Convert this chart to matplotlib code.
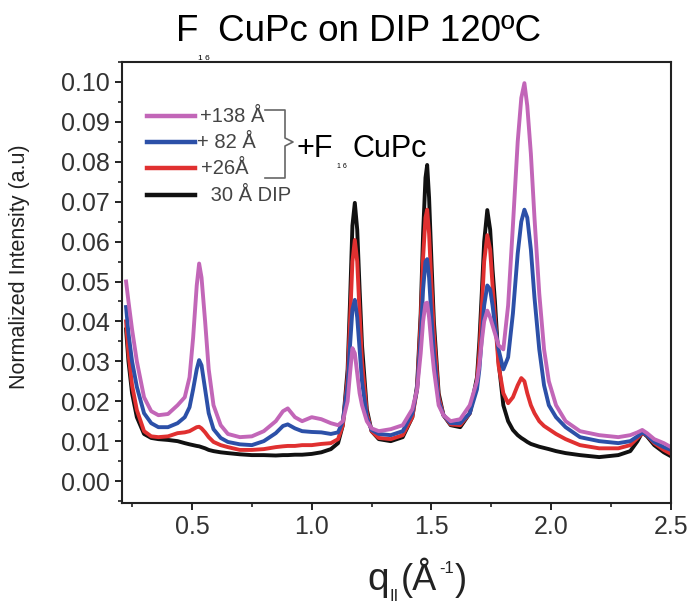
import matplotlib
matplotlib.use('Agg')
import matplotlib.pyplot as plt
from matplotlib.lines import Line2D
from matplotlib.ticker import MultipleLocator

# %% Data
q = [0.225, 0.235, 0.25, 0.27, 0.30, 0.33, 0.36, 0.40, 0.44, 0.47,
     0.49, 0.505, 0.52, 0.53, 0.54, 0.555, 0.57, 0.59, 0.62, 0.65,
     0.70, 0.75, 0.80, 0.85, 0.88, 0.90, 0.93, 0.96, 1.00, 1.04,
     1.08, 1.11, 1.13, 1.15, 1.16, 1.17, 1.18, 1.19, 1.20, 1.21,
     1.23, 1.25, 1.28, 1.33, 1.38, 1.42, 1.44, 1.455, 1.465, 1.475,
     1.482, 1.49, 1.50, 1.51, 1.53, 1.55, 1.58, 1.62, 1.66, 1.69,
     1.70, 1.71, 1.72, 1.733, 1.745, 1.755, 1.765, 1.78, 1.80, 1.82,
     1.84, 1.86, 1.875, 1.888, 1.90, 1.915, 1.93, 1.95, 1.97, 1.99,
     2.02, 2.06, 2.12, 2.20, 2.28, 2.33, 2.36, 2.38, 2.40, 2.43,
     2.47, 2.50]

dip_30 = [0.038, 0.030, 0.022, 0.016, 0.0118, 0.0108, 0.0105, 0.0103, 0.0100, 0.0095,
          0.0092, 0.0090, 0.0088, 0.0087, 0.0085, 0.0082, 0.0078, 0.0075, 0.0072, 0.0070,
          0.0067, 0.0065, 0.0065, 0.0064, 0.0065, 0.0065, 0.0066, 0.0066, 0.0068, 0.0072,
          0.0080, 0.0095, 0.014, 0.028, 0.045, 0.064, 0.0697, 0.063, 0.048, 0.034,
          0.018, 0.0125, 0.0105, 0.0100, 0.0110, 0.016, 0.024, 0.042, 0.062, 0.076,
          0.0792, 0.071, 0.055, 0.040, 0.022, 0.0165, 0.0140, 0.0135, 0.017, 0.026,
          0.035, 0.047, 0.060, 0.0679, 0.063, 0.053, 0.045, 0.030, 0.019, 0.015,
          0.0128, 0.0115, 0.0108, 0.0103, 0.0098, 0.0093, 0.0090, 0.0086, 0.0083, 0.0080,
          0.0075, 0.0070, 0.0065, 0.0060, 0.0065, 0.0075, 0.0100, 0.0122, 0.0112, 0.0090,
          0.0072, 0.0062]

plus_26 = [0.040, 0.032, 0.024, 0.0178, 0.0125, 0.0112, 0.0110, 0.0112, 0.0120, 0.0122,
           0.0125, 0.0130, 0.0135, 0.0136, 0.0132, 0.0122, 0.0110, 0.0098, 0.0090, 0.0085,
           0.0078, 0.0078, 0.0080, 0.0085, 0.0087, 0.0088, 0.0088, 0.0090, 0.0090, 0.0093,
           0.0095, 0.0105, 0.014, 0.026, 0.040, 0.055, 0.0604, 0.055, 0.042, 0.030,
           0.017, 0.0125, 0.0108, 0.0105, 0.0115, 0.016, 0.023, 0.040, 0.056, 0.066,
           0.068, 0.062, 0.049, 0.037, 0.021, 0.0165, 0.0142, 0.0140, 0.017, 0.025,
           0.032, 0.043, 0.055, 0.0616, 0.058, 0.049, 0.041, 0.029, 0.022, 0.0195,
           0.021, 0.024, 0.0258, 0.025, 0.022, 0.019, 0.017, 0.015, 0.0138, 0.013,
           0.0118, 0.0105, 0.0090, 0.0082, 0.0082, 0.0090, 0.0108, 0.0120, 0.0115, 0.0095,
           0.0078, 0.0068]

plus_82 = [0.0436, 0.037, 0.030, 0.0236, 0.017, 0.0145, 0.0135, 0.0135, 0.0145, 0.0160,
           0.0185, 0.023, 0.028, 0.0303, 0.029, 0.023, 0.017, 0.0130, 0.0108, 0.0098,
           0.0092, 0.0090, 0.0100, 0.0120, 0.0138, 0.0142, 0.0132, 0.0125, 0.0123, 0.0122,
           0.0118, 0.0122, 0.015, 0.024, 0.034, 0.043, 0.0454, 0.041, 0.033, 0.025,
           0.016, 0.0128, 0.0118, 0.0115, 0.0125, 0.017, 0.023, 0.036, 0.048, 0.055,
           0.0556, 0.051, 0.041, 0.032, 0.020, 0.0165, 0.0145, 0.0145, 0.017, 0.023,
           0.028, 0.036, 0.044, 0.049, 0.048, 0.044, 0.039, 0.033, 0.028, 0.031,
           0.042, 0.057, 0.065, 0.068, 0.066, 0.058, 0.046, 0.033, 0.024, 0.019,
           0.016, 0.0135, 0.0110, 0.0100, 0.0095, 0.0100, 0.0112, 0.0122, 0.0115, 0.0098,
           0.0085, 0.0078]

plus_138 = [0.050, 0.045, 0.038, 0.030, 0.021, 0.0175, 0.0165, 0.0168, 0.0190, 0.0210,
            0.026, 0.036, 0.049, 0.0545, 0.051, 0.040, 0.028, 0.019, 0.0140, 0.0118,
            0.0110, 0.0112, 0.0125, 0.0150, 0.0175, 0.0182, 0.0160, 0.0150, 0.0160, 0.0155,
            0.0145, 0.0140, 0.0150, 0.020, 0.027, 0.0333, 0.032, 0.027, 0.022, 0.019,
            0.0150, 0.0132, 0.0125, 0.0130, 0.0140, 0.018, 0.023, 0.032, 0.040, 0.0445,
            0.0447, 0.041, 0.034, 0.028, 0.019, 0.0165, 0.0150, 0.0155, 0.019, 0.025,
            0.029, 0.035, 0.040, 0.0427, 0.041, 0.039, 0.037, 0.034, 0.033, 0.044,
            0.064, 0.085, 0.096, 0.0997, 0.094, 0.082, 0.066, 0.047, 0.033, 0.025,
            0.019, 0.015, 0.0125, 0.0115, 0.0110, 0.0115, 0.0122, 0.0128, 0.0120, 0.0105,
            0.0095, 0.0085]

labels = ['+138 Å', '+ 82 Å', '+26Å', ' 30 Å DIP']
colors = ['#c266b8', '#2c50a8', '#e03030', '#111111']

# %% Figure
W, H = 695, 606
plt.rcParams['font.family'] = 'Liberation Sans'

fig = plt.figure(figsize=(W / 100, H / 100), dpi=100)
ax = fig.add_axes([122 / W, 1 - 503 / H, (671 - 122) / W, (503 - 62) / H])


def px(x, y):
    # pixel position (top-left origin) -> figure fraction
    return x / W, 1 - y / H


# draw black first, pink on top
series = [dip_30, plus_26, plus_82, plus_138]
series_cols = [colors[3], colors[2], colors[1], colors[0]]
for ys, c in zip(series, series_cols):
    ax.plot(q, ys, color=c, linewidth=2.8, solid_joinstyle='round')

ax.set_xlim(0.208, 2.5)
ax.set_ylim(-0.0055, 0.105)
ax.xaxis.set_minor_locator(MultipleLocator(0.25))
ax.yaxis.set_minor_locator(MultipleLocator(0.005))
ax.set_xticks([0.5, 1.0, 1.5, 2.0, 2.5])
ax.set_xticklabels(['0.5', '1.0', '1.5', '2.0', '2.5'])
ax.set_yticks([i / 100 for i in range(11)])
ax.set_yticklabels(['%.2f' % (i / 100) for i in range(11)])

for s in ax.spines.values():
    s.set_linewidth(1.5)
    s.set_color('#222222')
ax.tick_params(which='major', direction='out', length=5, width=1.4,
               labelsize=18, labelcolor='#333333', color='#222222')
ax.tick_params(which='minor', direction='out', length=3, width=1.2, color='#222222')
ax.tick_params(axis='x', pad=4)

ax.set_ylabel('Normalized Intensity (a.u)', fontsize=15.5, color='#222222')
ax.yaxis.set_label_coords(-0.168, 0.535)

# x label built from pieces: q_II (Å^-1)
fig.text(*px(367, 590), 'q', fontsize=28, ha='left', va='baseline', color='#222222')
fig.text(*px(390, 601), 'II', fontsize=12, ha='left', va='baseline', color='#222222')
fig.text(*px(401, 590), '(Å', fontsize=26, ha='left', va='baseline', color='#222222')
fig.text(*px(439, 573), '-1', fontsize=12, ha='left', va='baseline', color='#222222')
fig.text(*px(455, 590), ')', fontsize=26, ha='left', va='baseline', color='#222222')

# Title with tiny subscript
fig.text(*px(176, 41), 'F', fontsize=26.5, ha='left', va='baseline')
fig.text(*px(198, 60), '1 6', fontsize=6, ha='left', va='baseline')
fig.text(*px(218, 41), 'CuPc on DIP 120ºC', fontsize=26.5, ha='left', va='baseline')

# Legend drawn by hand
leg_y = [116, 142, 168, 195]
leg_tx = [200, 197, 201, 205]
for yy, xx, lab, c in zip(leg_y, leg_tx, labels, colors):
    x0, y0 = px(147, yy)
    x1, _ = px(195, yy)
    fig.add_artist(Line2D([x0, x1], [y0, y0], color=c, linewidth=3.2,
                          transform=fig.transFigure))
    fig.text(*px(xx, yy), lab, fontsize=14.5, color='#444444', ha='left', va='center')

# bracket
bx = [265, 285, 285, 293, 285, 285, 265]
by = [110, 110, 138, 142, 146, 178, 178]
bpts = [px(a, b) for a, b in zip(bx, by)]
fig.add_artist(Line2D([p[0] for p in bpts], [p[1] for p in bpts], color='#666666',
                      linewidth=1.2, transform=fig.transFigure))

fig.text(*px(296, 157), '+F', fontsize=22, ha='left', va='baseline')
fig.text(*px(337, 168), '1 6', fontsize=5, ha='left', va='baseline')
fig.text(*px(352, 157), 'CuPc', fontsize=22, ha='left', va='baseline')

fig.savefig('out.png', dpi=100)
